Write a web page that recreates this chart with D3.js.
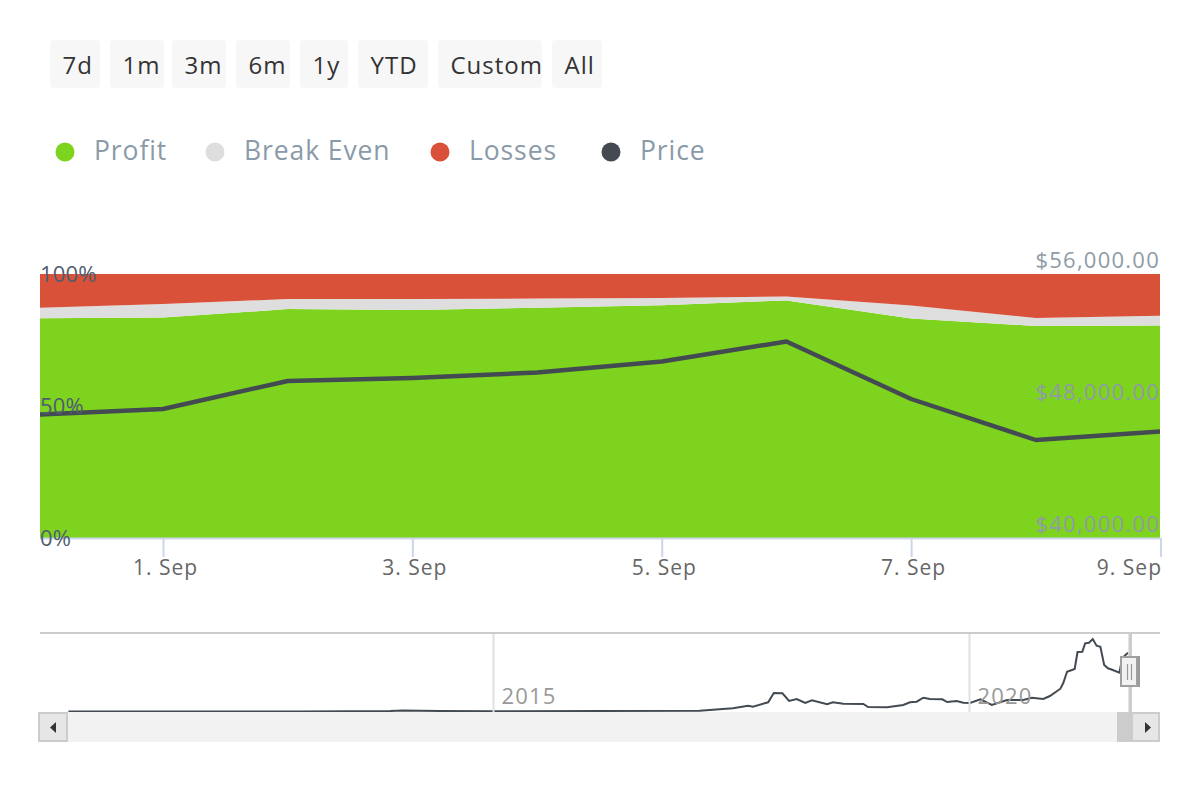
<!DOCTYPE html>
<html><head><meta charset="utf-8">
<script src="https://cdn.jsdelivr.net/npm/d3@7/dist/d3.min.js"></script>
<style>html,body{margin:0;padding:0;background:#fff}svg{display:block}text{font-family:"Open Sans",sans-serif}</style>
</head><body><svg id="c" width="1200" height="800"></svg>
<script>
// ---- data ----
const rangeButtons = ["7d","1m","3m","6m","1y","YTD","Custom","All"];
const legendNames = ["Profit","Break Even","Losses","Price"];
const days = ["2021-08-31","2021-09-01","2021-09-02","2021-09-03","2021-09-04","2021-09-05","2021-09-06","2021-09-07","2021-09-08","2021-09-09"];
const profit    = [83.2,83.5,86.7,86.4,87.2,88.2,90.0,83.1,80.3,80.5];
const breakEven = [ 4.0, 5.1, 3.8, 4.1, 3.5, 2.7, 1.5, 5.0, 3.0, 3.7];
const losses    = [12.8,11.4, 9.5, 9.5, 9.3, 9.1, 8.5,11.9,16.7,15.8];
const price     = [47485,47818,49515,49697,50030,50697,51909,48424,45939,46455];
const percentTicks = [0,50,100];
const priceTicks = [40000,48000,56000];
const dayTicks = ["2021-09-01","2021-09-03","2021-09-05","2021-09-07","2021-09-09"];
const navYears = [2010.54,2012.97,2013.92,2014.05,2014.44,2015,2016.12,2017.17,2017.38,2017.52,2017.68,2017.73,2017.89,2017.95,2018.04,2018.11,2018.19,2018.28,2018.35,2018.51,2018.57,2018.68,2018.89,2018.94,2019.14,2019.31,2019.38,2019.45,2019.52,2019.59,2019.72,2019.77,2019.87,2019.94,2020.01,2020.12,2020.24,2020.40,2020.48,2020.57,2020.66,2020.78,2020.85,2020.96,2020.99,2021.03,2021.11,2021.14,2021.19,2021.22,2021.26,2021.30,2021.34,2021.38,2021.42,2021.46,2021.51,2021.58,2021.61,2021.67];
const navPrices = [60,100,500,800,500,250,400,700,1940,2825,5120,4240,8120,16330,16070,9270,11035,7500,9890,6360,8120,6890,6620,3970,3710,5740,8120,8650,12180,11035,10770,8390,9270,7770,7500,10770,5740,10150,10150,10150,12180,11035,13680,20130,25160,35130,37520,52530,52790,60200,60740,64000,58090,57200,41050,38140,36640,34250,47230,51900];
const navYearTicks = [2015,2020];

// ---- layout / style ----
const plot = {l:40,r:1160,t:274,b:538};
const col = {profit:"#7dd31e",even:"#dedede",loss:"#d95138",price:"#434a52"};
const legendCols = [col.profit,col.even,col.loss,col.price];
const btnBox = [[50,100],[110,164],[172,226],[236,290],[300,348],[358,428],[438,542],[552,602]];
const legendX = [65,215,440,611];
const parse = d3.utcParse("%Y-%m-%d");
const svg = d3.select("#c");

// buttons
const btn = svg.append("g").selectAll("g").data(rangeButtons).join("g");
btn.append("rect").attr("x",(d,i)=>btnBox[i][0]).attr("y",40)
  .attr("width",(d,i)=>btnBox[i][1]-btnBox[i][0]).attr("height",48).attr("rx",4).attr("fill","#f7f7f7");
btn.append("text").attr("x",(d,i)=>btnBox[i][0]+12.5).attr("y",74)
  .attr("font-size",24).attr("letter-spacing",1).attr("fill","#333").text(d=>d);

// legend
const leg = svg.append("g").selectAll("g").data(legendNames).join("g");
leg.append("circle").attr("cx",(d,i)=>legendX[i]).attr("cy",152).attr("r",9.5).attr("fill",(d,i)=>legendCols[i]);
leg.append("text").attr("x",(d,i)=>legendX[i]+29).attr("y",160).attr("font-size",26.5).attr("letter-spacing",0.9).attr("fill","#8a9aa8").text(d=>d);

// main scales
const x = d3.scaleUtc().domain([parse("2021-09-01"),parse("2021-09-09")]).range([163,1160.5]);
const yPct = d3.scaleLinear().domain([0,100]).range([plot.b,plot.t]);
const yPrice = d3.scaleLinear().domain([40000,56000]).range([plot.b,plot.t]);

const rows = days.map((d,i)=>({date:parse(d),profit:profit[i],even:breakEven[i],loss:losses[i],price:price[i]}));
const stack = d3.stack().keys(["profit","even","loss"])(rows);
const area = d3.area().x(d=>x(d.data.date)).y0(d=>yPct(d[0])).y1(d=>yPct(d[1]));

svg.append("clipPath").attr("id","pc").append("rect")
  .attr("x",plot.l).attr("y",plot.t-4).attr("width",plot.r-plot.l).attr("height",plot.b-plot.t+8);
const main = svg.append("g").attr("clip-path","url(#pc)");
main.selectAll("path.a").data(stack).join("path").attr("class","a")
  .attr("d",area).attr("fill",(d,i)=>[col.profit,col.even,col.loss][i]);

// x axis
const xAxis = d3.axisBottom(x).tickValues(dayTicks.map(parse)).tickFormat(d3.utcFormat("%-d. %b")).tickSize(19).tickSizeOuter(0);
const gx = svg.append("g").attr("transform",`translate(0,${plot.b})`).call(xAxis);
gx.select(".domain").attr("d",`M${plot.l},0.5H1161`).attr("stroke","#ccd6eb").attr("stroke-width",2);
gx.selectAll(".tick line").attr("stroke","#ccd6eb").attr("stroke-width",2);
gx.selectAll(".tick text").attr("font-family",null).attr("font-size",21).attr("letter-spacing",1).attr("fill","#666").attr("y",22).attr("dy","15");
gx.selectAll(".tick text").attr("text-anchor",(d,i,n)=>i===n.length-1?"end":"middle").attr("dx",(d,i,n)=>i===n.length-1?"1":"2");

// y axes
const gl = svg.append("g").attr("transform",`translate(${plot.l},0)`)
  .call(d3.axisRight(yPct).tickValues(percentTicks).tickFormat(d=>d+"%").tickSize(0));
gl.select(".domain").remove();
gl.selectAll("text").attr("font-size",22).attr("letter-spacing",0.2).attr("fill","#4f5d70").attr("x",0).attr("y",0).attr("dy","0.32em");
const gr = svg.append("g").attr("transform",`translate(${plot.r},0)`)
  .call(d3.axisLeft(yPrice).tickValues(priceTicks).tickFormat(d=>"$"+d3.format(",.2f")(d)).tickSize(0));
gr.select(".domain").remove();
gr.selectAll("text").attr("font-size",22).attr("letter-spacing",1.25).attr("fill","#8f9ba6").attr("x",0).attr("y",-14).attr("dy","0.32em");

// price line
main.append("path").datum(rows).attr("fill","none").attr("stroke",col.price).attr("stroke-width",4.4)
  .attr("stroke-linejoin","round").attr("d",d3.line().x(d=>x(d.date)).y(d=>yPrice(d.price)));

// navigator
const nx = d3.scaleLinear().domain([2015,2020]).range([493,969]);
const ny = d3.scaleLinear().domain([0,64000]).range([711.5,639]);
const nav = svg.append("g");
const gn = nav.append("g").attr("transform","translate(0,712)")
  .call(d3.axisTop(nx).tickValues(navYearTicks).tickFormat(d3.format("d")).tickSize(79).tickSizeOuter(0));
gn.select(".domain").remove();
gn.selectAll(".tick line").attr("stroke","#e0e0e0").attr("stroke-width",2);
gn.selectAll(".tick text").attr("font-size",22).attr("letter-spacing",1.2).attr("fill","#999").attr("text-anchor","start").attr("x",8).attr("y",-8).attr("dy",0);
nav.append("path").datum(navYears.map((y,i)=>[y,navPrices[i]])).attr("fill","none").attr("stroke",col.price).attr("stroke-width",2)
  .attr("d",d3.line().x(d=>nx(d[0])).y(d=>ny(d[1])));
gn.raise();
nav.append("line").attr("x1",plot.l).attr("x2",plot.r).attr("y1",633).attr("y2",633).attr("stroke","#ccc").attr("stroke-width",2);

// scrollbar
nav.append("rect").attr("x",68).attr("y",712).attr("width",1064).attr("height",30).attr("fill","#f2f2f2");
nav.append("rect").attr("x",1117).attr("y",712).attr("width",15).attr("height",30).attr("fill","#ccc");
nav.append("rect").attr("x",39).attr("y",713).attr("width",28).attr("height",28).attr("fill","#e6e6e6").attr("stroke","#ccc").attr("stroke-width",2);
nav.append("rect").attr("x",1132).attr("y",713).attr("width",27).attr("height",28).attr("fill","#e6e6e6").attr("stroke","#ccc").attr("stroke-width",2);
nav.append("path").attr("d","M56,722V733L50,727.5Z").attr("fill","#333");
nav.append("path").attr("d","M1145,722V733L1151,727.5Z").attr("fill","#333");
nav.append("rect").attr("x",1128.5).attr("y",633).attr("width",3.5).attr("height",80).attr("fill","#ccc");
nav.append("rect").attr("x",1136).attr("y",656).attr("width",4).attr("height",31).attr("fill","#999");
nav.append("rect").attr("x",1121).attr("y",657).attr("width",16).attr("height",29).attr("fill","#f2f2f2").attr("stroke","#a0a0a0").attr("stroke-width",2);
nav.append("path").attr("d","M1127.5,664V680M1131.5,664V680").attr("stroke","#999").attr("stroke-width",1.2).attr("fill","none");
</script></body></html>
